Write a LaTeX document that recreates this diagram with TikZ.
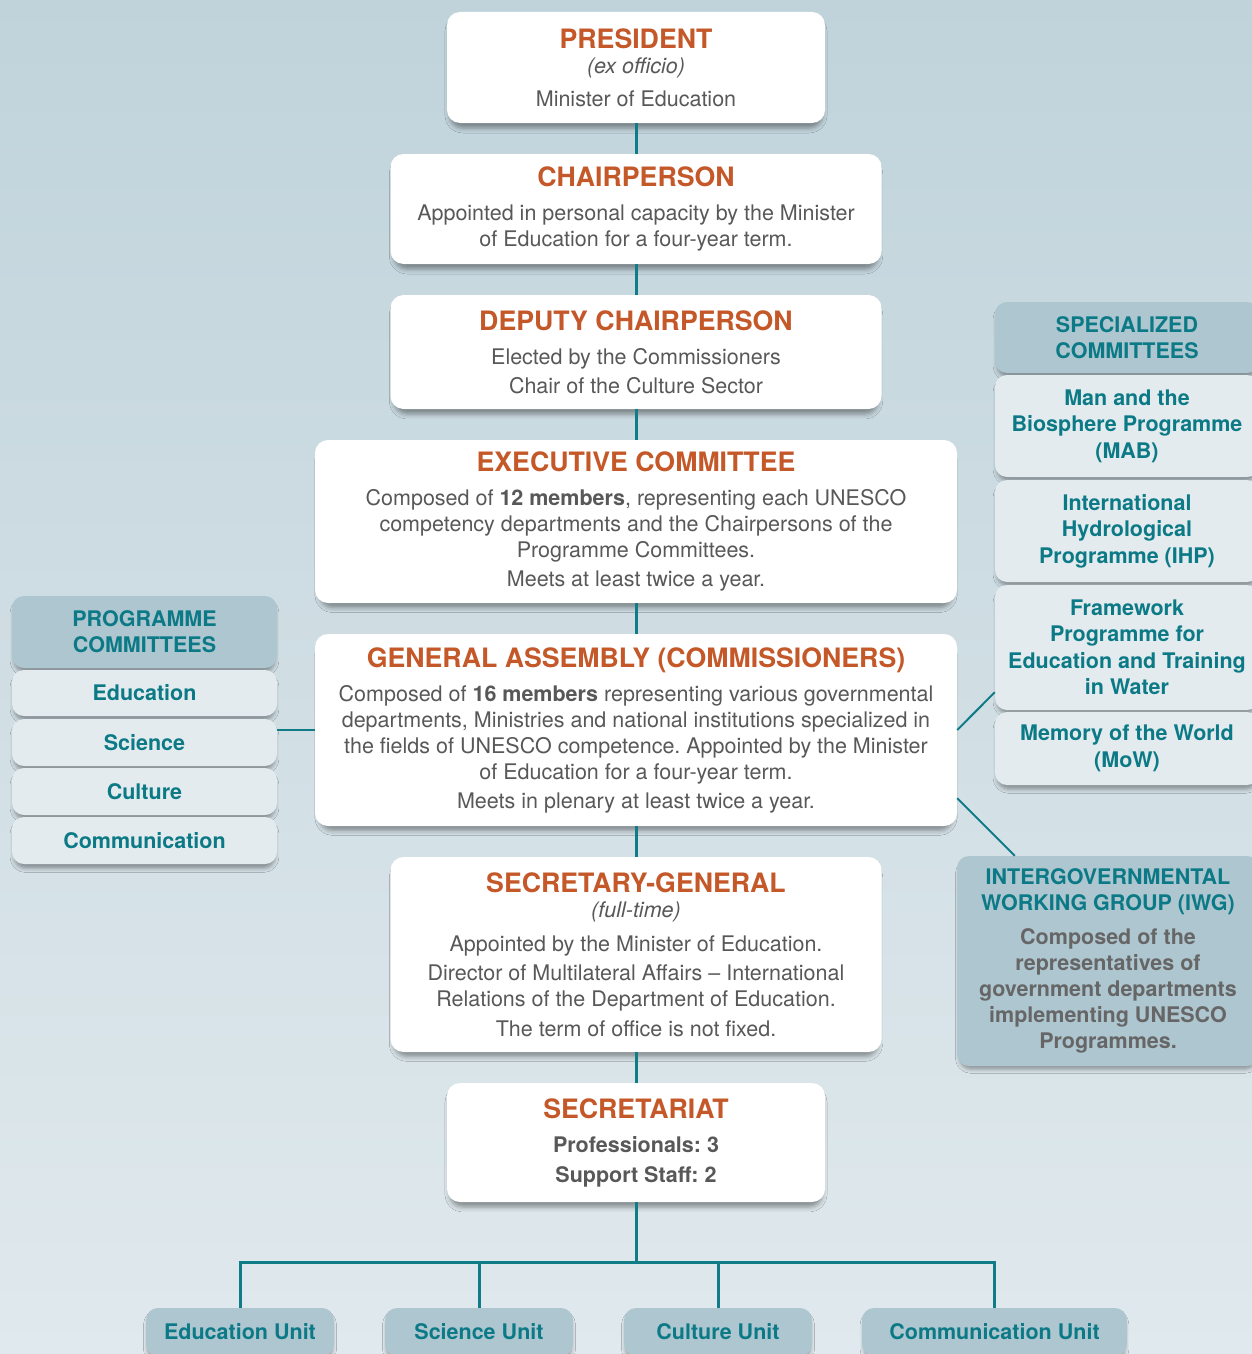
\documentclass[tikz,border=0pt]{standalone}
\usepackage{fontspec}
\setmainfont{TeX Gyre Heros}
\usetikzlibrary{shadows.blur,calc}
\definecolor{bgtop}{RGB}{192,211,219}
\definecolor{bgbot}{RGB}{224,233,237}
\definecolor{ttlorange}{RGB}{196,88,40}
\definecolor{bodygrey}{RGB}{88,88,88}
\definecolor{teal}{RGB}{12,122,134}
\definecolor{lineteal}{RGB}{16,124,136}
\definecolor{hdrfill}{RGB}{174,198,208}
\definecolor{itemfill}{RGB}{227,235,238}
\definecolor{iwggrey}{RGB}{102,102,102}
\newcommand\orgtitle[1]{{\fontsize{26.7}{30}\selectfont\bfseries\color{ttlorange}#1}}
\newcommand\bodysize{\fontsize{21.5}{26}\selectfont}
\begin{document}
\frenchspacing
\begin{tikzpicture}[x=1pt,y=-1pt,
  wbox/.style={fill=white, rounded corners=13pt, align=center, font=\bodysize, text=bodygrey, inner sep=0pt,
    blur shadow={shadow xshift=0pt, shadow yshift=-6pt, shadow blur radius=5pt, shadow scale=0.985, shadow opacity=40}},
  hdrbox/.style={fill=hdrfill, rounded corners=12pt, align=center, font=\bodysize\bfseries, text=teal, inner sep=0pt,
    blur shadow={shadow xshift=0pt, shadow yshift=-5pt, shadow blur radius=4pt, shadow scale=0.985, shadow opacity=35}},
  itembox/.style={fill=itemfill, rounded corners=12pt, align=center, font=\fontsize{21.5}{26.5}\selectfont\bfseries, text=teal, inner sep=0pt,
    blur shadow={shadow xshift=0pt, shadow yshift=-5pt, shadow blur radius=4pt, shadow scale=0.985, shadow opacity=35}},
  conn/.style={draw=lineteal, line width=3pt},
  thinconn/.style={draw=lineteal, line width=2pt}]
\useasboundingbox (0,0) rectangle (1252,1354);
\clip (0,0) rectangle (1252,1354);
\shade[top color=bgtop, bottom color=bgbot] (0,0) rectangle (1252,1354);

% centre column
\node[wbox, minimum width=378pt, minimum height=111pt] (pres) at (636,67.5)
  {\orgtitle{PRESIDENT}\\[-1pt]\textit{(ex officio)}\\[7pt]Minister of Education};
\node[wbox, minimum width=491pt, minimum height=110pt] (chair) at (636,209)
  {\orgtitle{CHAIRPERSON}\\[8pt]Appointed in personal capacity by the Minister\\of Education for a four-year term.};
\node[wbox, minimum width=491pt, minimum height=114pt] (dep) at (636,352)
  {\orgtitle{DEPUTY CHAIRPERSON}\\[8pt]Elected by the Commissioners\\[3pt]Chair of the Culture Sector};
\node[wbox, minimum width=642pt, minimum height=163pt] (exec) at (636,521.5)
  {\orgtitle{EXECUTIVE COMMITTEE}\\[8pt]Composed of \textbf{12 members}, representing each UNESCO\\competency departments and the Chairpersons of the\\Programme Committees.\\[3pt]Meets at least twice a year.};
\node[wbox, minimum width=642pt, minimum height=192pt] (ga) at (636,730)
  {\orgtitle{GENERAL ASSEMBLY (COMMISSIONERS)}\\[8pt]Composed of \textbf{16 members} representing various governmental\\departments, Ministries and national institutions specialized in\\the fields of UNESCO competence. Appointed by the Minister\\of Education for a four-year term.\\[3pt]Meets in plenary at least twice a year.};
\node[wbox, minimum width=491pt, minimum height=195pt] (sg) at (636,954.5)
  {\orgtitle{SECRETARY-GENERAL}\\[-1pt]\textit{(full-time)}\\[8pt]Appointed by the Minister of Education.\\[3pt]Director of Multilateral Affairs -- International\\Relations of the Department of Education.\\[4pt]The term of office is not fixed.};
\node[wbox, minimum width=378pt, minimum height=119pt] (sec) at (636,1142.5)
  {\orgtitle{SECRETARIAT}\\[8pt]\textbf{Professionals: 3}\\[4pt]\textbf{Support Staff: 2}};

% programme committees
\node[hdrbox, minimum width=265pt, minimum height=72pt] (progh) at (144.5,632) {PROGRAMME\\COMMITTEES};
\node[itembox, minimum width=265pt, minimum height=46pt] (pedu) at (144.5,693) {Education};
\node[itembox, minimum width=265pt, minimum height=47pt] (psci) at (144.5,742.5) {Science};
\node[itembox, minimum width=265pt, minimum height=47pt] (pcul) at (144.5,791.5) {Culture};
\node[itembox, minimum width=265pt, minimum height=47pt] (pcom) at (144.5,840.5) {Communication};

% specialized committees
\node[hdrbox, minimum width=264pt, minimum height=71pt] (spech) at (1127,337.5) {SPECIALIZED\\COMMITTEES};
\node[itembox, minimum width=264pt, minimum height=102pt] (mab) at (1127,426) {Man and the\\Biosphere Programme\\(MAB)};
\node[itembox, minimum width=264pt, minimum height=102pt] (ihp) at (1127,531) {International\\Hydrological\\Programme (IHP)};
\node[itembox, minimum width=264pt, minimum height=125pt] (fw) at (1127,647.5) {Framework\\Programme for\\Education and Training\\in Water};
\node[itembox, minimum width=264pt, minimum height=73pt] (mow) at (1127,748.5) {Memory of the World\\(MoW)};

% IWG
\node[hdrbox, minimum width=302pt, minimum height=210pt] (iwg) at (1108,961)
  {INTERGOVERNMENTAL\\WORKING GROUP (IWG)\\[8pt]{\color{iwggrey}Composed of the}\\{\color{iwggrey}representatives of}\\{\color{iwggrey}government departments}\\{\color{iwggrey}implementing UNESCO}\\{\color{iwggrey}Programmes.}};

% units
\node[hdrbox, minimum width=188pt, minimum height=48pt] (eu) at (240,1332) {Education Unit};
\node[hdrbox, minimum width=188pt, minimum height=48pt] (su) at (479,1332) {Science Unit};
\node[hdrbox, minimum width=188pt, minimum height=48pt] (cu) at (718,1332) {Culture Unit};
\node[hdrbox, minimum width=265pt, minimum height=48pt] (cmu) at (994.5,1332) {Communication Unit};

% connectors
\draw[conn] (pres.south) -- (chair.north);
\draw[conn] (chair.south) -- (dep.north);
\draw[conn] (dep.south) -- (exec.north);
\draw[conn] (exec.south) -- (ga.north);
\draw[conn] (ga.south) -- (sg.north);
\draw[conn] (sg.south) -- (sec.north);
\draw[thinconn] (ga.west) -- (ga.west -| psci.east);
\draw[thinconn] (ga.east) -- ($(fw.south west)+(0,-18)$);
\draw[thinconn] ($(ga.south east)+(0,-28)$) -- ($(iwg.north west)+(58,0)$);
\coordinate (jn) at (636,1262);
\draw[conn] (sec.south) -- (jn);
\draw[conn] (eu.north) -- (eu.north |- jn) -- (cmu.north |- jn) -- (cmu.north);
\draw[conn] (su.north) -- (su.north |- jn);
\draw[conn] (cu.north) -- (cu.north |- jn);
\end{tikzpicture}
\end{document}
